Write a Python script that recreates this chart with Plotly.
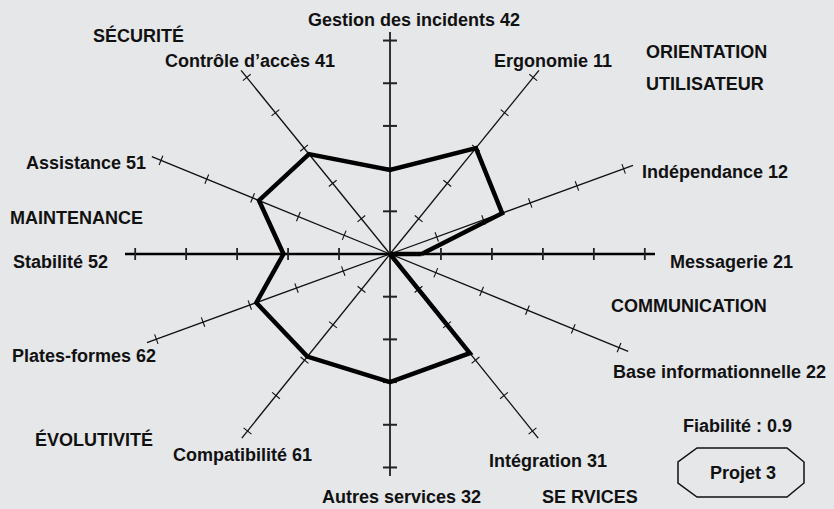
import math
import plotly.graph_objects as go

# axes, counter-clockwise from the right-hand horizontal axis
axis_labels = [
    "Messagerie 21", "Indépendance 12", "Ergonomie 11", "Gestion des incidents 42",
    "Contrôle d’accès 41", "Assistance 51", "Stabilité 52", "Plates-formes 62",
    "Compatibilité 61", "Autres services 32", "Intégration 31", "Base informationnelle 22",
]
scores = [0.62, 2.4, 3.0, 1.97, 2.83, 2.86, 2.09, 2.86, 2.9, 3.0, 2.8, 0.0]
tick_values = [1, 2, 3, 4, 5]
axis_max = 5.2

group_labels = ["SÉCURITÉ", "ORIENTATION", "UTILISATEUR", "MAINTENANCE",
                "COMMUNICATION", "ÉVOLUTIVITÉ", "SE RVICES"]
reliability = "Fiabilité : 0.9"
project = "Projet 3"

# drawing geometry (pixels): the star is squashed into an ellipse
W, H = 834, 509
CX, CY = 390, 254
RX, RY = 265, 222
ANGLES = [0, 23.5, 55.8, 90, 124.2, 154, 180, 203.5, 236, 270, 304, 334]
BG = "#e6e7e9"


def end_point(deg):
    t = math.radians(deg)
    return RX * math.cos(t), RY * math.sin(t)


def at(deg, v):
    ex, ey = end_point(deg)
    return ex * v / axis_max, ey * v / axis_max


fig = go.Figure()

# axis lines
main_x, main_y, diag_x, diag_y, vert_x, vert_y = [], [], [], [], [], []
for deg in ANGLES:
    ex, ey = end_point(deg)
    if deg in (0, 180):
        main_x += [0, ex, None]; main_y += [0, ey, None]
    elif deg in (90, 270):
        vert_x += [0, ex, None]; vert_y += [0, ey, None]
    else:
        diag_x += [0, ex, None]; diag_y += [0, ey, None]

# tick marks perpendicular to each axis
tk_main_x, tk_main_y, tk_diag_x, tk_diag_y, tk_vert_x, tk_vert_y = [], [], [], [], [], []
for deg in ANGLES:
    ex, ey = end_point(deg)
    n = math.hypot(ex, ey)
    px, py = -ey / n, ex / n
    for v in tick_values:
        x, y = at(deg, v)
        if deg in (0, 180):
            h = 6
            tk_main_x += [x - px * h, x + px * h, None]; tk_main_y += [y - py * h, y + py * h, None]
        elif deg in (90, 270):
            h = 7
            tk_vert_x += [x - px * h, x + px * h, None]; tk_vert_y += [y - py * h, y + py * h, None]
        else:
            h = 5
            tk_diag_x += [x - px * h, x + px * h, None]; tk_diag_y += [y - py * h, y + py * h, None]

line_sets = [
    (diag_x, diag_y, 1.3, "#111111"),
    (tk_diag_x, tk_diag_y, 1.1, "#111111"),
    (main_x, main_y, 2.4, "#000000"),
    (tk_main_x, tk_main_y, 1.8, "#222222"),
    (vert_x, vert_y, 2.0, "#333333"),
    (tk_vert_x, tk_vert_y, 2.0, "#222222"),
]
for xs, ys, w, c in line_sets:
    fig.add_trace(go.Scatter(x=xs, y=ys, mode="lines", line=dict(color=c, width=w),
                             hoverinfo="skip", showlegend=False))

# score polygon
poly = [at(deg, v) for deg, v in zip(ANGLES, scores)]
poly.append(poly[0])
fig.add_trace(go.Scatter(
    x=[p[0] for p in poly], y=[p[1] for p in poly], mode="lines",
    line=dict(color="#000000", width=4.5), text=axis_labels + axis_labels[:1],
    hoverinfo="text", showlegend=False,
))


def label(text, px, py, anchor="left"):
    fig.add_annotation(
        x=px - CX, y=CY - py, xref="x", yref="y", text=text, showarrow=False,
        xanchor=anchor, yanchor="middle",
        font=dict(family="Liberation Sans, Arial, sans-serif", size=18, color="#111111",
                  weight="bold"),
    )


# axis labels (pixel positions)
label_pos = [
    (668, 262, "left"), (640, 172, "left"), (492, 61, "left"), (414, 20, "center"),
    (163, 61, "left"), (148, 163, "right"), (11, 262, "left"), (10, 356, "left"),
    (171, 455, "left"), (320, 497, "left"), (487, 461, "left"), (611, 372, "left"),
]
for txt, (px, py, anc) in zip(axis_labels, label_pos):
    label(txt, px, py, anc)

group_pos = [(91, 35), (644, 52), (644, 84), (8, 218), (609, 306), (33, 439), (540, 497)]
for txt, (px, py) in zip(group_labels, group_pos):
    label(txt, px, py)

label(reliability, 681, 426)
label(project, 743, 473, "center")

# octagonal frame around the project name
octo = [(697, 448), (787, 448), (804, 462), (804, 483), (787, 497), (697, 497), (678, 483), (678, 462)]
path = "M " + " L ".join(f"{px - CX},{CY - py}" for px, py in octo) + " Z"
fig.add_shape(type="path", path=path, xref="x", yref="y",
              line=dict(color="#111111", width=1.5), fillcolor=BG, layer="below")

fig.update_layout(
    width=W, height=H, margin=dict(l=0, r=0, t=0, b=0),
    plot_bgcolor=BG, paper_bgcolor=BG,
    xaxis=dict(range=[-CX, W - CX], visible=False, fixedrange=True),
    yaxis=dict(range=[CY - H, CY], visible=False, fixedrange=True),
    showlegend=False,
)

fig.write_html("out.html", config={"displayModeBar": False},
               post_script="document.body.style.margin='0';document.body.style.overflow='hidden';")
